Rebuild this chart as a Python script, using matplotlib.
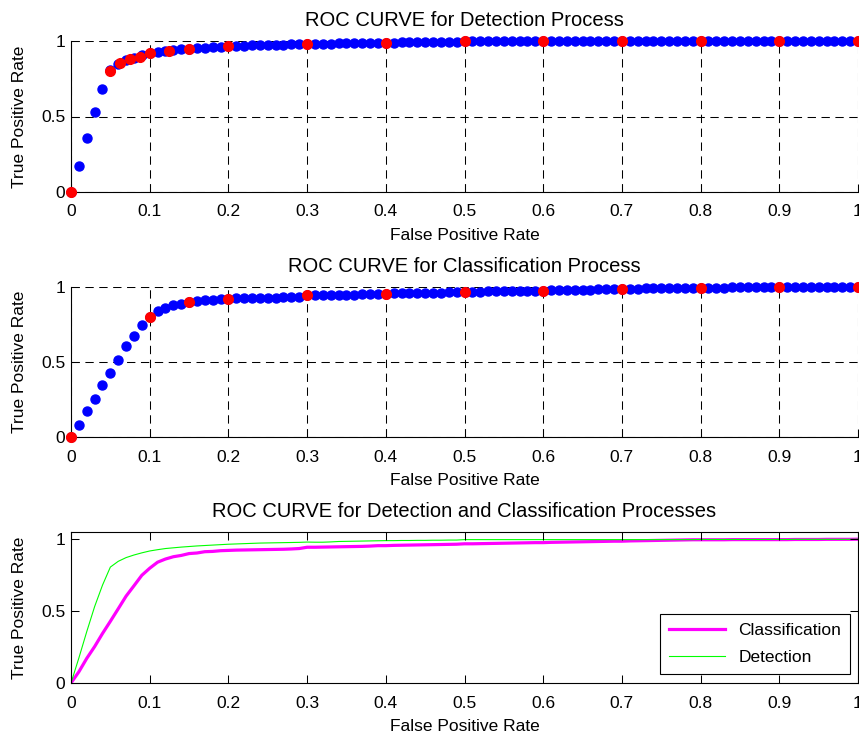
import numpy as np
import matplotlib
matplotlib.use("Agg")
import matplotlib.pyplot as plt

plt.rcParams['font.family'] = ['Liberation Sans', 'DejaVu Sans']
plt.rcParams['lines.scale_dashes'] = False

# false positive rate grid (blue dots / lines)
fpr = [i / 100 for i in range(101)]

# detection process, true positive rate at each fpr
det_tpr = [0.000, 0.174, 0.357, 0.531, 0.680, 0.806, 0.846, 0.872, 0.890, 0.905,
           0.918, 0.927, 0.935, 0.940, 0.945, 0.949, 0.953, 0.956, 0.959, 0.962,
           0.965, 0.967, 0.969, 0.971, 0.973, 0.974, 0.975, 0.976, 0.977, 0.978,
           0.980, 0.979, 0.979, 0.981, 0.984, 0.985, 0.986, 0.987, 0.988, 0.989,
           0.990, 0.990, 0.991, 0.991, 0.992, 0.992, 0.993, 0.993, 0.994, 0.994,
           0.997, 0.997, 0.997, 0.997, 0.997, 0.997, 0.997, 0.997, 0.997, 0.997,
           0.997, 0.997, 0.997, 0.997, 0.997, 0.997, 0.997, 0.997, 0.997, 0.997,
           0.997, 0.997, 0.997, 0.997, 0.997, 0.997, 0.997, 0.997, 0.997, 0.997,
           0.998, 0.998, 0.998, 0.998, 0.998, 0.998, 0.998, 0.998, 0.998, 0.998,
           0.998, 0.998, 0.999, 0.999, 0.999, 0.999, 0.999, 0.999, 0.999, 0.999,
           1.000]

# detection thresholds (red dots)
det_thr_fpr = [0, 0.05, 0.0625, 0.075, 0.0875, 0.1, 0.125, 0.15, 0.2, 0.3,
               0.4, 0.5, 0.6, 0.7, 0.8, 0.9, 1.0]
det_thr_tpr = [0, 0.803, 0.856, 0.878, 0.896, 0.918, 0.936, 0.947, 0.969, 0.980,
               0.990, 0.997, 0.997, 0.997, 0.998, 0.998, 1.0]

# classification process
cls_tpr = [0.000, 0.078, 0.171, 0.253, 0.344, 0.429, 0.516, 0.604, 0.676, 0.749,
           0.798, 0.840, 0.862, 0.878, 0.887, 0.900, 0.904, 0.913, 0.915, 0.920,
           0.922, 0.924, 0.925, 0.926, 0.927, 0.928, 0.929, 0.930, 0.932, 0.935,
           0.944, 0.944, 0.945, 0.946, 0.947, 0.948, 0.949, 0.950, 0.952, 0.955,
           0.955, 0.957, 0.958, 0.959, 0.960, 0.961, 0.962, 0.963, 0.964, 0.965,
           0.968, 0.968, 0.969, 0.970, 0.971, 0.972, 0.973, 0.974, 0.975, 0.976,
           0.976, 0.978, 0.979, 0.980, 0.981, 0.982, 0.983, 0.984, 0.985, 0.986,
           0.986, 0.988, 0.989, 0.990, 0.991, 0.992, 0.993, 0.994, 0.995, 0.996,
           0.996, 0.996, 0.996, 0.996, 0.997, 0.997, 0.997, 0.997, 0.997, 0.997,
           0.997, 0.997, 0.998, 0.998, 0.998, 0.998, 0.999, 0.999, 0.999, 0.999,
           1.000]

cls_thr_fpr = [0, 0.1, 0.15, 0.2, 0.3, 0.4, 0.5, 0.6, 0.7, 0.8, 0.9, 1.0]
cls_thr_tpr = [0, 0.798, 0.902, 0.922, 0.944, 0.955, 0.968, 0.976, 0.986, 0.996, 0.997, 1.0]

xticks = [0, 0.1, 0.2, 0.3, 0.4, 0.5, 0.6, 0.7, 0.8, 0.9, 1]
xticklabels = ['0', '0.1', '0.2', '0.3', '0.4', '0.5', '0.6', '0.7', '0.8', '0.9', '1']
yticks = [0, 0.5, 1]
yticklabels = ['0', '0.5', '1']

FS = 12.5


def style_axes(ax, title, ytop, grid=True):
    ax.set_xlim(0, 1)
    ax.set_ylim(0, ytop)
    ax.set_xticks(xticks)
    ax.set_xticklabels(xticklabels)
    ax.set_yticks(yticks)
    ax.set_yticklabels(yticklabels)
    for sp in ax.spines.values():
        sp.set_linewidth(0.8)
    if grid:
        # matlab style: dashed grid closes the box at top and right
        ax.spines['top'].set_visible(False)
        ax.spines['right'].set_visible(False)
        ax.tick_params(direction='in', length=6, width=0.75, labelsize=FS)
        ax.grid(True, color='k', linestyle=(0, (6, 4)), linewidth=0.75)
    else:
        ax.tick_params(direction='in', top=True, right=True, length=6, width=0.75,
                       labelsize=FS)
    ax.tick_params(axis='x', pad=9)
    ax.tick_params(axis='y', pad=4)
    ax.set_axisbelow(False)
    ax.set_title(title, fontsize=FS + 2, pad=11)
    ax.set_xlabel("False Positive Rate", fontsize=FS, labelpad=6)
    ax.set_ylabel("True Positive Rate", fontsize=FS, labelpad=10)


fig = plt.figure(figsize=(8.59, 7.40), dpi=100)

ax1 = fig.add_axes([71 / 859, 1 - 192 / 740, 787 / 859, 151 / 740])
ax1.plot(fpr, det_tpr, 'o', color='#0000ff', markersize=6.5, clip_on=False, zorder=3)
ax1.plot(det_thr_fpr, det_thr_tpr, 'o', color='#ff0000', markersize=7, clip_on=False, zorder=4)
style_axes(ax1, "ROC CURVE for Detection Process", 1)

ax2 = fig.add_axes([71 / 859, 1 - 437 / 740, 787 / 859, 150 / 740])
ax2.plot(fpr, cls_tpr, 'o', color='#0000ff', markersize=6.5, clip_on=False, zorder=3)
ax2.plot(cls_thr_fpr, cls_thr_tpr, 'o', color='#ff0000', markersize=7, clip_on=False, zorder=4)
style_axes(ax2, "ROC CURVE for Classification Process", 1)

ax3 = fig.add_axes([71 / 859, 1 - 683 / 740, 787 / 859, 151 / 740])
ax3.plot(fpr, cls_tpr, color='#ff00ff', linewidth=2.3, label='Classification')
ax3.plot(fpr, det_tpr, color='#00ff00', linewidth=0.8, label='Detection')
style_axes(ax3, "ROC CURVE for Detection and Classification Processes", 1.05, grid=False)
leg = ax3.legend(loc='lower right', fontsize=FS, frameon=True, fancybox=False,
                 edgecolor='k', framealpha=1, handlelength=3.2, borderpad=0.5,
                 labelspacing=0.7, borderaxespad=0, bbox_to_anchor=(0.99, 0.06))
leg.get_frame().set_linewidth(0.8)

fig.savefig("out.png", dpi=100)
